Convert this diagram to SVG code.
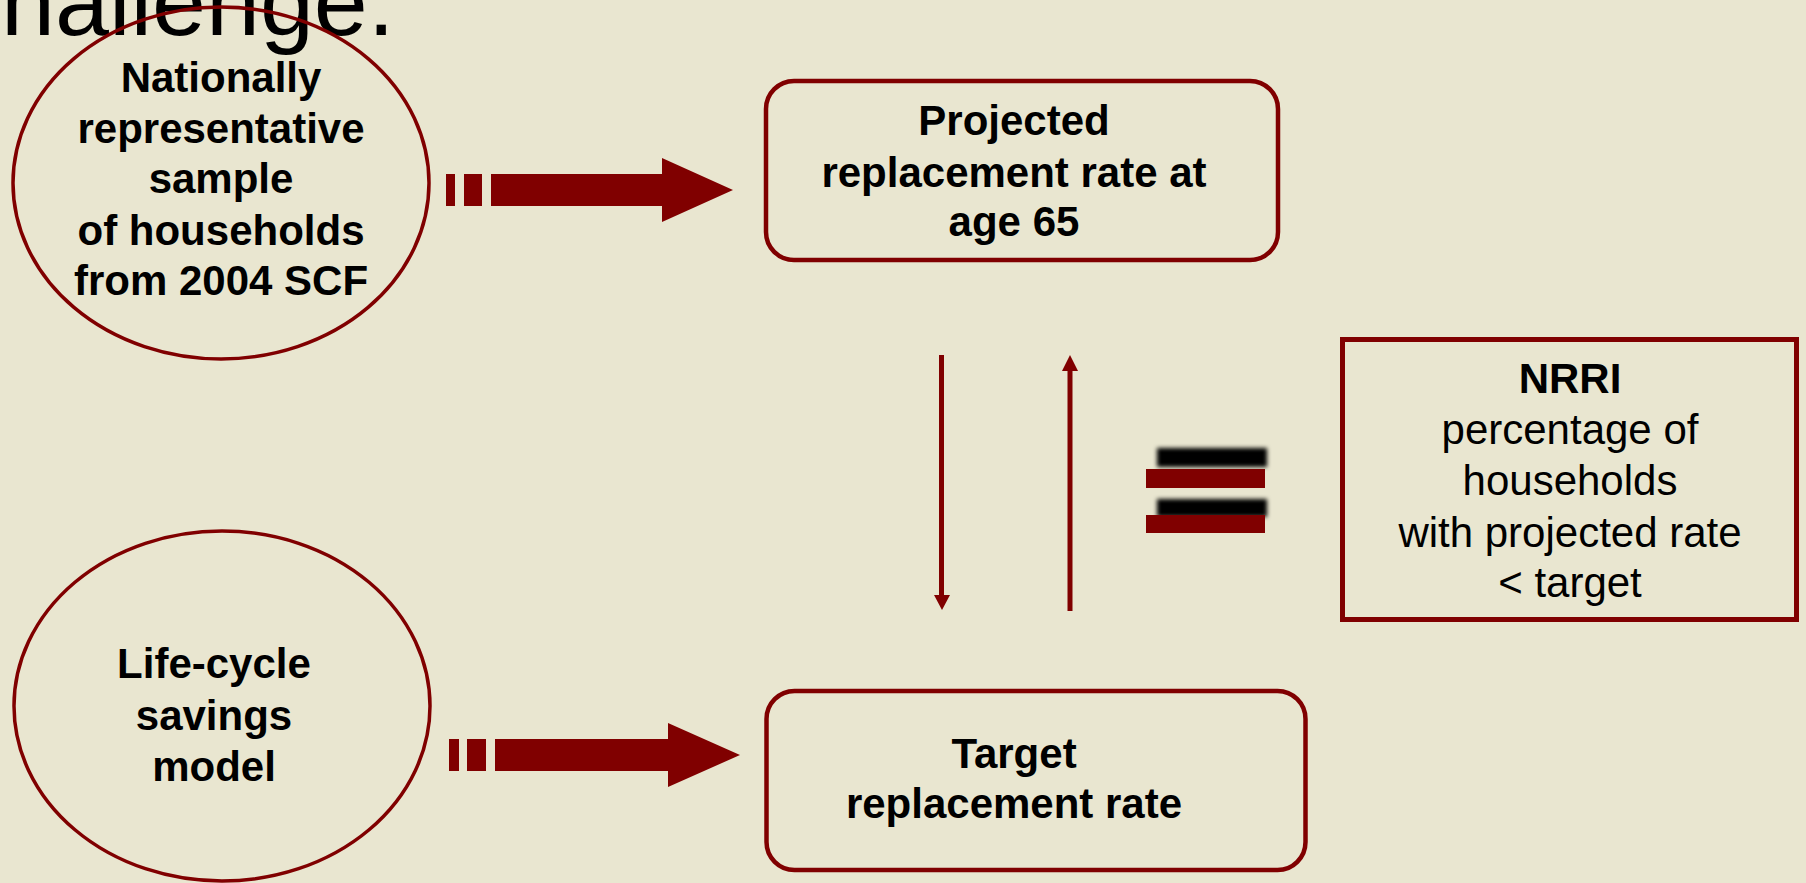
<svg xmlns="http://www.w3.org/2000/svg" width="1806" height="883" viewBox="0 0 1806 883">
<defs>
<style>
.bg{fill:#E9E6D0}
.ell{fill:none;stroke:#800000;stroke-width:3.5}
.box{fill:none;stroke:#800000;stroke-width:4.5}
.red{fill:#800000}
.ln{stroke:#800000;stroke-width:5;fill:none}
.b{font-family:"Liberation Sans",Arial,sans-serif;font-weight:bold;font-size:42px;fill:#000;text-anchor:middle}
.r{font-family:"Liberation Sans",Arial,sans-serif;font-size:42px;fill:#000;text-anchor:middle}
.title{font-family:"Liberation Sans",Arial,sans-serif;font-size:97px;fill:#000}
</style>
<filter id="blur" x="-20%" y="-50%" width="140%" height="200%">
<feGaussianBlur stdDeviation="2"/>
</filter>
</defs>
<rect class="bg" x="0" y="0" width="1806" height="883"/>
<text class="title" x="1" y="35">hallenge.</text>

<g id="node-sample">
<ellipse class="ell" cx="221" cy="183" rx="208" ry="176"/>
<text class="b" x="221" y="92">Nationally</text>
<text class="b" x="221" y="143">representative</text>
<text class="b" x="221" y="193">sample</text>
<text class="b" x="221" y="245">of households</text>
<text class="b" x="221" y="295">from 2004 SCF</text>
</g>

<g id="node-lifecycle">
<ellipse class="ell" cx="222" cy="706" rx="208" ry="175"/>
<text class="b" x="214" y="678">Life-cycle</text>
<text class="b" x="214" y="730">savings</text>
<text class="b" x="214" y="781">model</text>
</g>

<g id="node-projected">
<rect class="box" x="766" y="81" width="512" height="179" rx="28" ry="28"/>
<text class="b" x="1014" y="135">Projected</text>
<text class="b" x="1014" y="187">replacement rate at</text>
<text class="b" x="1014" y="236">age 65</text>
</g>

<g id="node-target">
<rect class="box" x="766.5" y="691" width="539" height="179" rx="28" ry="28"/>
<text class="b" x="1014" y="768">Target</text>
<text class="b" x="1014" y="818">replacement rate</text>
</g>

<g id="node-nrri">
<rect fill="none" stroke="#800000" stroke-width="5" x="1342.5" y="339.5" width="454" height="280"/>
<text class="b" x="1570" y="393">NRRI</text>
<text class="r" x="1570" y="444">percentage of</text>
<text class="r" x="1570" y="495">households</text>
<text class="r" x="1570" y="547">with projected rate</text>
<text class="r" x="1570" y="597">&lt; target</text>
</g>

<g id="equals">
<rect x="1157" y="448" width="110" height="19" fill="#000" filter="url(#blur)"/>
<rect x="1157" y="499" width="110" height="18" fill="#000" filter="url(#blur)"/>
<rect class="red" x="1146" y="469" width="119" height="19"/>
<rect class="red" x="1146" y="515" width="119" height="18"/>
</g>

<g id="connectors">
<g id="arrow-top">
<rect class="red" x="446" y="174" width="9" height="32"/>
<rect class="red" x="464" y="174" width="18" height="32"/>
<polygon class="red" points="491,174 662,174 662,158 733,190 662,222 662,206 491,206"/>
</g>
<g id="arrow-bottom">
<rect class="red" x="449" y="739" width="10" height="32"/>
<rect class="red" x="467" y="739" width="19" height="32"/>
<polygon class="red" points="495,739 668,739 668,723 740,755 668,787 668,771 495,771"/>
</g>
<g id="arrow-down">
<line class="ln" x1="941.5" y1="355" x2="941.5" y2="597"/>
<polygon class="red" points="934,595 950,595 942,610"/>
</g>
<g id="arrow-up">
<line class="ln" x1="1070" y1="611" x2="1070" y2="369"/>
<polygon class="red" points="1062,371 1078,371 1070,355"/>
</g>
</g>
</svg>
